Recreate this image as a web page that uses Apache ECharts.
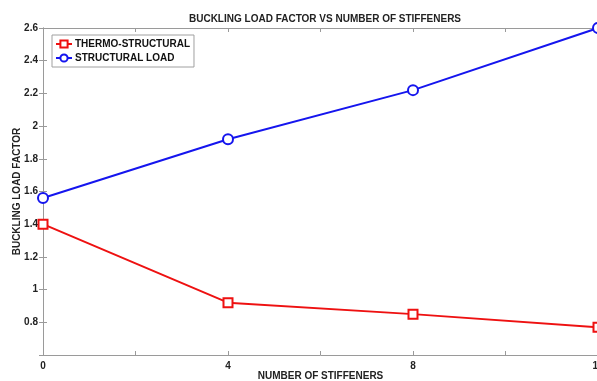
<!DOCTYPE html>
<html>
<head>
<meta charset="utf-8">
<script src="https://cdn.jsdelivr.net/npm/echarts@6/dist/echarts.min.js"></script>
<style>
html,body{margin:0;padding:0;background:#fff;}
#chart{width:597px;height:381px;}
</style>
</head>
<body>
<div id="chart"></div>
<script>
const stiffeners = [0, 4, 8, 12];
const thermoStructural = [1.40, 0.92, 0.85, 0.77];
const structuralLoad = [1.56, 1.92, 2.22, 2.60];
const seriesNames = ['THERMO-STRUCTURAL', 'STRUCTURAL LOAD'];

const FONT = '"Liberation Sans", Arial, sans-serif';
const chart = echarts.init(document.getElementById('chart'), null, {renderer: 'canvas'});
const axisGray = '#9a9a9a';

function pairs(xs, ys) { return xs.map((x, i) => [x, ys[i]]); }

chart.setOption({
  animation: false,
  backgroundColor: '#ffffff',
  title: {
    text: 'BUCKLING LOAD FACTOR VS NUMBER OF STIFFENERS',
    left: 320, top: 9, textAlign: 'center',
    textStyle: {fontFamily: FONT, fontSize: 10, fontWeight: 'bold', color: '#222'}
  },
  legend: {
    orient: 'vertical',
    left: 52, top: 35,
    padding: [4, 4, 4, 3],
    itemGap: 4,
    itemWidth: 16, itemHeight: 9,
    backgroundColor: '#fff',
    borderColor: '#a0a0a0', borderWidth: 1, borderRadius: 0,
    textStyle: {fontFamily: FONT, fontSize: 10, fontWeight: 'bold', color: '#111', padding: [0,0,0,-2]},
    data: seriesNames
  },
  grid: {left: 43, right: -1, top: 28, bottom: 26, containLabel: false, outerBoundsMode: 'none'},
  xAxis: [{
    type: 'value', min: 0, max: 12, interval: 2,
    position: 'bottom',
    name: 'NUMBER OF STIFFENERS', nameLocation: 'middle', nameGap: 16, nameMoveOverlap: false,
    nameTextStyle: {fontFamily: FONT, fontSize: 10, fontWeight: 'bold', color: '#222'},
    axisLine: {show: true, lineStyle: {color: axisGray, width: 1}},
    axisTick: {show: true, inside: true, length: 4, lineStyle: {color: axisGray}},
    axisLabel: {
      fontFamily: FONT, fontSize: 10, fontWeight: 'bold', color: '#222', margin: 6,
      formatter: v => (v % 4 === 0 ? String(v) : '')
    },
    splitLine: {show: false}
  }, {
    type: 'value', min: 0, max: 12, interval: 2,
    position: 'top',
    axisLine: {show: true, lineStyle: {color: axisGray, width: 1}},
    axisTick: {show: true, inside: true, length: 4, lineStyle: {color: axisGray}},
    axisLabel: {show: false},
    splitLine: {show: false}
  }],
  yAxis: [{
    type: 'value', min: 0.6, max: 2.6, interval: 0.2,
    position: 'left',
    name: 'BUCKLING LOAD FACTOR', nameLocation: 'middle', nameGap: 21, nameRotate: 90, nameMoveOverlap: false,
    nameTextStyle: {fontFamily: FONT, fontSize: 10, fontWeight: 'bold', color: '#222'},
    axisLine: {show: true, lineStyle: {color: axisGray, width: 1}},
    axisTick: {show: true, inside: true, length: 4, lineStyle: {color: axisGray}},
    axisLabel: {
      fontFamily: FONT, fontSize: 10, fontWeight: 'bold', color: '#222', margin: 5,
      showMinLabel: false,
      formatter: v => String(Math.round(v * 10) / 10)
    },
    splitLine: {show: false}
  }, {
    type: 'value', min: 0.6, max: 2.6, interval: 0.2,
    position: 'right',
    axisLine: {show: true, lineStyle: {color: axisGray, width: 1}},
    axisTick: {show: true, inside: true, length: 4, lineStyle: {color: axisGray}},
    axisLabel: {show: false},
    splitLine: {show: false}
  }],
  series: [{
    name: seriesNames[0], type: 'line',
    data: pairs(stiffeners, thermoStructural),
    symbol: 'emptyRect', symbolSize: 9,
    lineStyle: {color: '#ee1111', width: 2},
    itemStyle: {color: '#ee1111', borderColor: '#ee1111', borderWidth: 1.5},
    clip: false, z: 3
  }, {
    name: seriesNames[1], type: 'line',
    data: pairs(stiffeners, structuralLoad),
    symbol: 'emptyCircle', symbolSize: 10,
    lineStyle: {color: '#1515ee', width: 2},
    itemStyle: {color: '#1515ee', borderColor: '#1515ee', borderWidth: 1.5},
    clip: false, z: 3
  }]
});
</script>
</body>
</html>
